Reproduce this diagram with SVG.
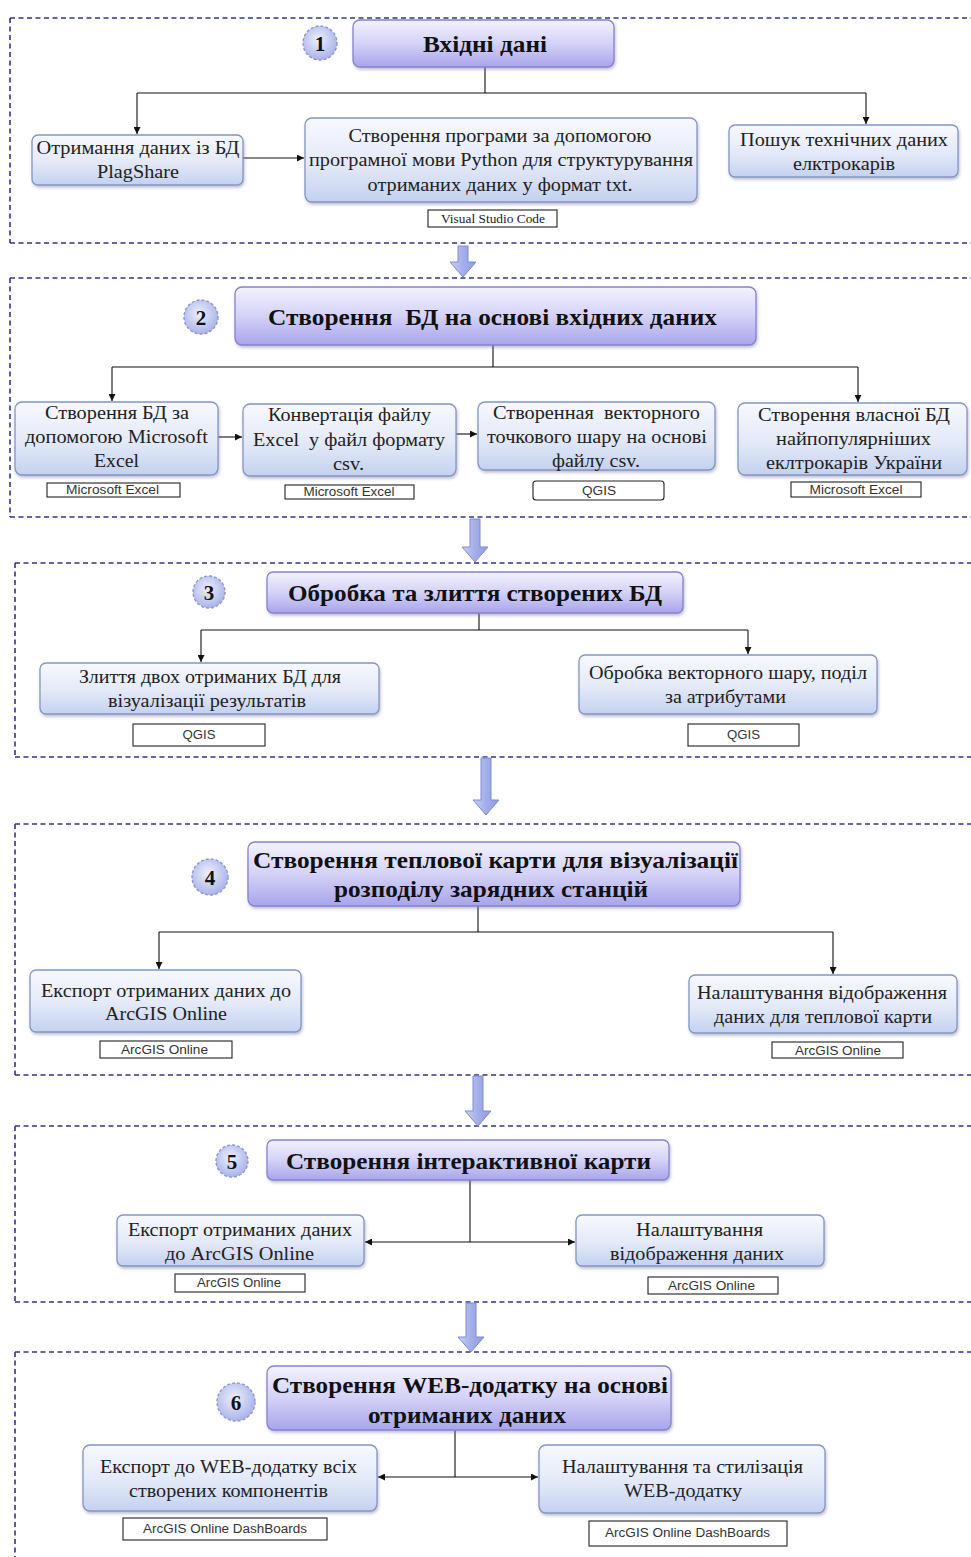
<svg xmlns="http://www.w3.org/2000/svg" width="971" height="1557" viewBox="0 0 971 1557">
<defs>
<linearGradient id="gNode" x1="0" y1="0" x2="0" y2="1">
<stop offset="0" stop-color="#f7f9fe"/><stop offset="0.55" stop-color="#e3e9f8"/><stop offset="1" stop-color="#c4d1ef"/>
</linearGradient>
<linearGradient id="gHead" x1="0" y1="0" x2="0" y2="1">
<stop offset="0" stop-color="#f3f2fd"/><stop offset="0.5" stop-color="#d4d2f7"/><stop offset="1" stop-color="#a8a4eb"/>
</linearGradient>
<radialGradient id="gCirc" cx="0.45" cy="0.4" r="0.6">
<stop offset="0" stop-color="#eef0fc"/><stop offset="1" stop-color="#a9b3e9"/>
</radialGradient>
<linearGradient id="gArrow" x1="0" y1="0" x2="1" y2="0">
<stop offset="0" stop-color="#c9d0f5"/><stop offset="0.5" stop-color="#a3aeea"/><stop offset="1" stop-color="#8f9be0"/>
</linearGradient>
<filter id="sh" x="-10%" y="-20%" width="120%" height="150%">
<feDropShadow dx="1" dy="2" stdDeviation="1.5" flood-color="#6d7598" flood-opacity="0.45"/>
</filter>
<marker id="ah" viewBox="0 0 10 10" refX="10" refY="5" markerWidth="7" markerHeight="7" markerUnits="userSpaceOnUse" orient="auto">
<path d="M0,0 L10,5 L0,10 z" fill="#111"/>
</marker>
</defs>
<style>
text{white-space:pre}
.frame{fill:none;stroke:#34358a;stroke-width:1.6;stroke-dasharray:5 3.5}
.node{fill:url(#gNode);stroke:#8596c4;stroke-width:1.3;filter:url(#sh)}
.head{fill:url(#gHead);stroke:#8783cf;stroke-width:1.3;filter:url(#sh)}
.circ{fill:url(#gCirc);stroke:#8d96d4;stroke-width:1.4;stroke-dasharray:3 2}
.lab{fill:#fff;stroke:#222;stroke-width:1.1}
.t{font-family:"Liberation Serif","Times New Roman",serif;font-size:18px;fill:#222;text-anchor:middle}
.t2{font-family:"Liberation Serif","Times New Roman",serif;font-size:19px;fill:#222;text-anchor:middle}
.h{font-family:"Liberation Serif","Times New Roman",serif;font-size:23px;font-weight:bold;fill:#111;text-anchor:middle}
.n{font-family:"Liberation Serif","Times New Roman",serif;font-size:21px;font-weight:bold;fill:#111;text-anchor:middle}
.l{font-family:"Liberation Sans",Arial,sans-serif;font-size:12px;fill:#333;text-anchor:middle}
.lv{font-family:"Liberation Serif","Times New Roman",serif;font-size:12px;fill:#222;text-anchor:middle}
.c{fill:none;stroke:#111;stroke-width:1.1}
.ba{fill:url(#gArrow);stroke:#7f8bd2;stroke-width:1}
</style>

<g id="frames">
<path class="frame" d="M10,18 H971 M10,18 V243 M10,243 H971"/>
<path class="frame" d="M10,278 H971 M10,278 V517 M10,517 H971"/>
<path class="frame" d="M15,563 H971 M15,563 V757 M15,757 H971"/>
<path class="frame" d="M15,824 H971 M15,824 V1075 M15,1075 H971"/>
<path class="frame" d="M15,1126 H971 M15,1126 V1302 M15,1302 H971"/>
<path class="frame" d="M15,1352 H971 M15,1352 V1557"/>
</g>

<g id="block-arrows">
<polygon class="ba" points="458,246 468,246 468,262 476,262 463,277 450,262 458,262"/>
<polygon class="ba" points="470,519 480,519 480,547 488,547 475,562 462,547 470,547"/>
<polygon class="ba" points="481,758 491,758 491,800 499,800 486,815 473,800 481,800"/>
<polygon class="ba" points="473,1076 483,1076 483,1111 491,1111 478,1126 465,1111 473,1111"/>
<polygon class="ba" points="466,1303 476,1303 476,1337 484,1337 471,1352 458,1337 466,1337"/>
</g>

<g id="connectors">
<path class="c" d="M485,67 V93 M137,93 H866"/>
<path class="c" d="M137,93 V134" marker-end="url(#ah)"/>
<path class="c" d="M866,93 V124" marker-end="url(#ah)"/>
<path class="c" d="M243,158 H304" marker-end="url(#ah)"/>

<path class="c" d="M493,345 V367 M112,367 H858"/>
<path class="c" d="M112,367 V401" marker-end="url(#ah)"/>
<path class="c" d="M858,367 V402" marker-end="url(#ah)"/>
<path class="c" d="M218,437 H242" marker-end="url(#ah)"/>
<path class="c" d="M456,434 H477" marker-end="url(#ah)"/>

<path class="c" d="M479,613 V630 M201,630 H748"/>
<path class="c" d="M201,630 V662" marker-end="url(#ah)"/>
<path class="c" d="M748,630 V654" marker-end="url(#ah)"/>

<path class="c" d="M478,906 V932 M159,932 H833"/>
<path class="c" d="M159,932 V969" marker-end="url(#ah)"/>
<path class="c" d="M833,932 V974" marker-end="url(#ah)"/>

<path class="c" d="M470,1180 V1242"/>
<path class="c" d="M470,1242 H365" marker-end="url(#ah)"/>
<path class="c" d="M470,1242 H575" marker-end="url(#ah)"/>

<path class="c" d="M455,1430 V1477"/>
<path class="c" d="M455,1477 H378" marker-end="url(#ah)"/>
<path class="c" d="M455,1477 H538" marker-end="url(#ah)"/>
</g>

<!-- Section 1 -->
<g id="s1-num"><circle class="circ" cx="320" cy="43" r="17"/><text class="n" x="320" y="51">1</text></g>
<g id="s1-head"><rect class="head" x="353" y="20" width="261" height="47" rx="7"/><text class="h" x="485" y="52" textLength="124" lengthAdjust="spacingAndGlyphs">Вхідні дані</text></g>
<g id="s1-a"><rect class="node" x="32" y="135" width="211" height="50" rx="6"/>
<text class="t" x="138" y="154" textLength="203" lengthAdjust="spacingAndGlyphs">Отримання даних із БД</text>
<text class="t" x="138" y="178" textLength="82" lengthAdjust="spacingAndGlyphs">PlagShare</text></g>
<g id="s1-b"><rect class="node" x="305" y="118" width="392" height="84" rx="7"/>
<text class="t" x="500" y="142" textLength="303" lengthAdjust="spacingAndGlyphs">Створення програми за допомогою</text>
<text class="t" x="501" y="166" textLength="384" lengthAdjust="spacingAndGlyphs">програмної мови Python для структурування</text>
<text class="t" x="500" y="191" textLength="265" lengthAdjust="spacingAndGlyphs">отриманих даних у формат txt.</text></g>
<g id="s1-b-tool"><rect class="lab" x="428" y="210" width="129" height="17"/><text class="lv" x="493" y="223" textLength="104" lengthAdjust="spacingAndGlyphs">Visual Studio Code</text></g>
<g id="s1-c"><rect class="node" x="729" y="125" width="229" height="52" rx="6"/>
<text class="t" x="844" y="146" textLength="208" lengthAdjust="spacingAndGlyphs">Пошук технічних даних</text>
<text class="t" x="844" y="170" textLength="102" lengthAdjust="spacingAndGlyphs">елктрокарів</text></g>

<!-- Section 2 -->
<g id="s2-num"><circle class="circ" cx="201" cy="317" r="17"/><text class="n" x="201" y="325">2</text></g>
<g id="s2-head"><rect class="head" x="235" y="287" width="521" height="58" rx="7"/><text class="h" x="492.5" y="325" textLength="449" lengthAdjust="spacingAndGlyphs">Створення  БД на основі вхідних даних</text></g>
<g id="s2-a"><rect class="node" x="15" y="402" width="203" height="73" rx="7"/>
<text class="t2" x="117" y="419" textLength="144" lengthAdjust="spacingAndGlyphs">Створення БД за</text>
<text class="t2" x="116.5" y="443" textLength="183" lengthAdjust="spacingAndGlyphs">допомогою Microsoft</text>
<text class="t2" x="116.5" y="467" textLength="45" lengthAdjust="spacingAndGlyphs">Excel</text></g>
<g id="s2-a-tool"><rect class="lab" x="47" y="483" width="133" height="14"/><text class="l" x="112.5" y="494" textLength="93" lengthAdjust="spacingAndGlyphs">Microsoft Excel</text></g>
<g id="s2-b"><rect class="node" x="243" y="404" width="213" height="72" rx="7"/>
<text class="t2" x="349.5" y="421" textLength="163" lengthAdjust="spacingAndGlyphs">Конвертація файлу</text>
<text class="t2" x="349" y="446" textLength="192" lengthAdjust="spacingAndGlyphs">Excel  у файл формату</text>
<text class="t2" x="348.5" y="470" textLength="31" lengthAdjust="spacingAndGlyphs">csv.</text></g>
<g id="s2-b-tool"><rect class="lab" x="285" y="485" width="129" height="14"/><text class="l" x="349" y="496" textLength="91" lengthAdjust="spacingAndGlyphs">Microsoft Excel</text></g>
<g id="s2-c"><rect class="node" x="478" y="402" width="237" height="68" rx="7"/>
<text class="t2" x="596.5" y="419" textLength="207" lengthAdjust="spacingAndGlyphs">Створенная  векторного</text>
<text class="t2" x="597" y="443" textLength="220" lengthAdjust="spacingAndGlyphs">точкового шару на основі</text>
<text class="t2" x="596" y="467" textLength="88" lengthAdjust="spacingAndGlyphs">файлу csv.</text></g>
<g id="s2-c-tool"><rect class="lab" x="533" y="481" width="131" height="19" rx="3"/><text class="l" x="599" y="495" textLength="34" lengthAdjust="spacingAndGlyphs">QGIS</text></g>
<g id="s2-d"><rect class="node" x="738" y="403" width="229" height="72" rx="7"/>
<text class="t2" x="854" y="421" textLength="192" lengthAdjust="spacingAndGlyphs">Створення власної БД</text>
<text class="t2" x="853.5" y="445" textLength="155" lengthAdjust="spacingAndGlyphs">найпопулярніших</text>
<text class="t2" x="854" y="469" textLength="176" lengthAdjust="spacingAndGlyphs">еклтрокарів України</text></g>
<g id="s2-d-tool"><rect class="lab" x="791" y="482" width="130" height="15"/><text class="l" x="856" y="494" textLength="93" lengthAdjust="spacingAndGlyphs">Microsoft Excel</text></g>

<!-- Section 3 -->
<g id="s3-num"><circle class="circ" cx="209" cy="592" r="16"/><text class="n" x="209" y="600">3</text></g>
<g id="s3-head"><rect class="head" x="267" y="572" width="416" height="41" rx="6"/><text class="h" x="475" y="601" textLength="374" lengthAdjust="spacingAndGlyphs">Обробка та злиття створених БД</text></g>
<g id="s3-a"><rect class="node" x="40" y="663" width="339" height="51" rx="6"/>
<text class="t" x="210" y="683" textLength="262" lengthAdjust="spacingAndGlyphs">Злиття двох отриманих БД для</text>
<text class="t" x="207" y="707" textLength="198" lengthAdjust="spacingAndGlyphs">візуалізації результатів</text></g>
<g id="s3-a-tool"><rect class="lab" x="133" y="724" width="132" height="22"/><text class="l" x="199" y="739" textLength="33" lengthAdjust="spacingAndGlyphs">QGIS</text></g>
<g id="s3-b"><rect class="node" x="579" y="655" width="298" height="59" rx="6"/>
<text class="t" x="728" y="679" textLength="278" lengthAdjust="spacingAndGlyphs">Обробка векторного шару, поділ</text>
<text class="t" x="725.5" y="703" textLength="121" lengthAdjust="spacingAndGlyphs">за атрибутами</text></g>
<g id="s3-b-tool"><rect class="lab" x="688" y="724" width="111" height="22"/><text class="l" x="743.5" y="739" textLength="33" lengthAdjust="spacingAndGlyphs">QGIS</text></g>

<!-- Section 4 -->
<g id="s4-num"><circle class="circ" cx="210" cy="877" r="18"/><text class="n" x="210" y="885">4</text></g>
<g id="s4-head"><rect class="head" x="248" y="842" width="492" height="64" rx="7"/>
<text class="h" x="495.5" y="868" textLength="485" lengthAdjust="spacingAndGlyphs">Створення теплової карти для візуалізації</text>
<text class="h" x="491" y="897" textLength="314" lengthAdjust="spacingAndGlyphs">розподілу зарядних станцій</text></g>
<g id="s4-a"><rect class="node" x="30" y="970" width="271" height="62" rx="6"/>
<text class="t" x="166" y="997" textLength="250" lengthAdjust="spacingAndGlyphs">Експорт отриманих даних до</text>
<text class="t" x="166" y="1020" textLength="122" lengthAdjust="spacingAndGlyphs">ArcGIS Online</text></g>
<g id="s4-a-tool"><rect class="lab" x="100" y="1041" width="132" height="17"/><text class="l" x="164.5" y="1054" textLength="87" lengthAdjust="spacingAndGlyphs">ArcGIS Online</text></g>
<g id="s4-b"><rect class="node" x="689" y="975" width="268" height="58" rx="6"/>
<text class="t" x="822" y="999" textLength="250" lengthAdjust="spacingAndGlyphs">Налаштування відображення</text>
<text class="t" x="823" y="1023" textLength="218" lengthAdjust="spacingAndGlyphs">даних для теплової карти</text></g>
<g id="s4-b-tool"><rect class="lab" x="772" y="1042" width="131" height="16"/><text class="l" x="838" y="1055" textLength="86" lengthAdjust="spacingAndGlyphs">ArcGIS Online</text></g>

<!-- Section 5 -->
<g id="s5-num"><circle class="circ" cx="232" cy="1161" r="16"/><text class="n" x="232" y="1169">5</text></g>
<g id="s5-head"><rect class="head" x="267" y="1140" width="402" height="40" rx="6"/><text class="h" x="468.5" y="1169" textLength="365" lengthAdjust="spacingAndGlyphs">Створення інтерактивної карти</text></g>
<g id="s5-a"><rect class="node" x="117" y="1215" width="247" height="51" rx="6"/>
<text class="t" x="240" y="1236" textLength="224" lengthAdjust="spacingAndGlyphs">Експорт отриманих даних</text>
<text class="t" x="239.5" y="1260" textLength="149" lengthAdjust="spacingAndGlyphs">до ArcGIS Online</text></g>
<g id="s5-a-tool"><rect class="lab" x="175" y="1274" width="130" height="18"/><text class="l" x="239" y="1287" textLength="84" lengthAdjust="spacingAndGlyphs">ArcGIS Online</text></g>
<g id="s5-b"><rect class="node" x="576" y="1215" width="248" height="51" rx="6"/>
<text class="t" x="699.5" y="1236" textLength="127" lengthAdjust="spacingAndGlyphs">Налаштування</text>
<text class="t" x="697" y="1260" textLength="174" lengthAdjust="spacingAndGlyphs">відображення даних</text></g>
<g id="s5-b-tool"><rect class="lab" x="648" y="1277" width="130" height="17"/><text class="l" x="711.5" y="1290" textLength="87" lengthAdjust="spacingAndGlyphs">ArcGIS Online</text></g>

<!-- Section 6 -->
<g id="s6-num"><circle class="circ" cx="236" cy="1402" r="19"/><text class="n" x="236" y="1410">6</text></g>
<g id="s6-head"><rect class="head" x="267" y="1366" width="404" height="64" rx="7"/>
<text class="h" x="470" y="1393" textLength="396" lengthAdjust="spacingAndGlyphs">Створення WEB-додатку на основі</text>
<text class="h" x="467" y="1423" textLength="198" lengthAdjust="spacingAndGlyphs">отриманих даних</text></g>
<g id="s6-a"><rect class="node" x="83" y="1445" width="294" height="66" rx="7"/>
<text class="t" x="228.5" y="1473" textLength="257" lengthAdjust="spacingAndGlyphs">Експорт до WEB-додатку всіх</text>
<text class="t" x="228.5" y="1497" textLength="199" lengthAdjust="spacingAndGlyphs">створених компонентів</text></g>
<g id="s6-a-tool"><rect class="lab" x="123" y="1518" width="204" height="22"/><text class="l" x="225" y="1533" textLength="164" lengthAdjust="spacingAndGlyphs">ArcGIS Online DashBoards</text></g>
<g id="s6-b"><rect class="node" x="539" y="1445" width="286" height="68" rx="7"/>
<text class="t" x="682.5" y="1473" textLength="241" lengthAdjust="spacingAndGlyphs">Налаштування та стилізація</text>
<text class="t" x="683" y="1497" textLength="118" lengthAdjust="spacingAndGlyphs">WEB-додатку</text></g>
<g id="s6-b-tool"><rect class="lab" x="589" y="1521" width="198" height="25"/><text class="l" x="687.5" y="1537" textLength="165" lengthAdjust="spacingAndGlyphs">ArcGIS Online DashBoards</text></g>
</svg>
